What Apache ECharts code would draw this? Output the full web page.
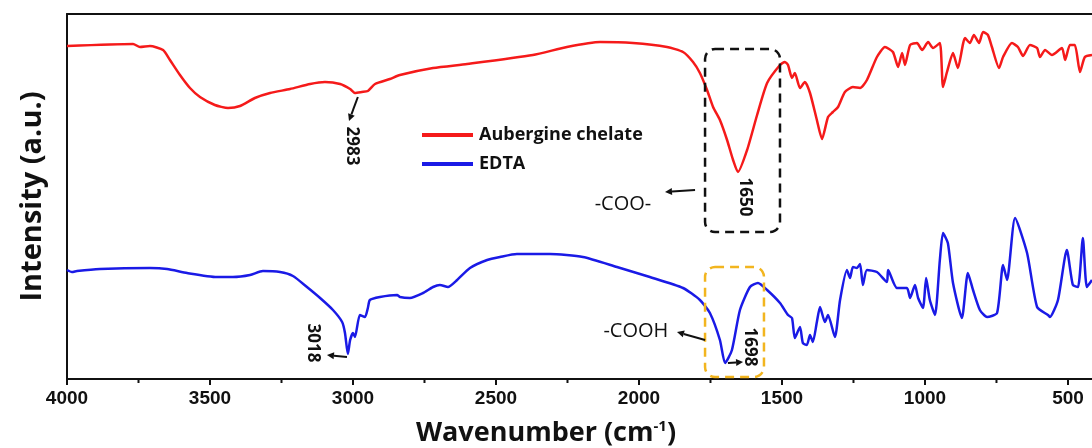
<!DOCTYPE html>
<html>
<head>
<meta charset="utf-8">
<script src="https://cdn.jsdelivr.net/npm/echarts@6/dist/echarts.min.js"></script>
<style>
html,body{margin:0;padding:0;background:#fff;}
#chart{width:1092px;height:448px;}
</style>
</head>
<body>
<div id="chart"></div>
<script>
// ---- data (wavenumber cm-1, intensity a.u.) ----
const chelateWn = [4000,3769,3745,3710,3664,3640,3605,3570,3535,3483,3437,3395,3343,3290,3220,3150,3098,3045,3010,2993,2969,2948,2923,2871,2836,2720,2601,2371,2252,2136,2021,1902,1846,1811,1787,1762,1741,1717,1692,1671,1654,1622,1587,1552,1507,1490,1479,1465,1455,1437,1420,1402,1378,1360,1339,1322,1304,1280,1252,1227,1203,1168,1140,1112,1094,1080,1070,1052,1028,1010,989,972,948,937,923,902,885,860,843,829,811,797,780,766,741,727,696,675,657,633,608,598,580,556,521,510,493,476,458,441,416];
const chelateInt = [333,335,332,333,329,319,304,291,282,274,271,273,281,286,290,295,297,295,290,286,287,288,295,300,304,311,315,324,332,337,336,332,327,317,306,289,272,259,239,219,207,229,264,296,314,317,314,301,306,291,297,286,259,240,262,267,272,287,292,291,299,322,332,327,312,326,314,334,336,329,337,331,336,292,307,326,311,341,336,344,336,347,344,332,311,322,336,332,323,334,331,322,329,324,331,319,334,334,307,322,324];

const edtaWn = [4000,3983,3965,3885,3710,3650,3580,3476,3420,3360,3315,3255,3210,3161,3115,3070,3038,3028,3018,3010,3000,2993,2976,2958,2948,2941,2906,2846,2836,2801,2755,2720,2696,2668,2636,2591,2531,2486,2427,2311,2196,2077,1962,1846,1787,1752,1717,1699,1675,1647,1612,1584,1552,1507,1479,1465,1455,1437,1427,1413,1402,1392,1378,1367,1350,1339,1315,1297,1273,1262,1252,1238,1227,1217,1203,1168,1133,1129,1098,1063,1052,1035,1024,1007,996,983,965,948,937,920,902,871,850,832,808,783,748,727,713,685,643,608,570,563,535,504,483,465,448,434,416];
const edtaInt = [109,107,108,110,111,110,106,102,102,104,108,107,103,92,81,69,57,46,25,39,46,42,64,62,71,79,82,84,82,81,86,92,94,92,99,111,119,122,125,125,122,112,102,91,79,66,39,16,29,69,92,96,89,76,64,61,41,52,36,34,44,37,57,72,57,64,42,79,109,101,112,111,115,94,109,107,97,109,91,91,81,94,81,71,101,79,64,119,146,136,96,61,106,89,69,62,66,114,99,161,126,72,64,62,79,129,94,92,141,92,99];

const seriesNames = ['Aubergine chelate', 'EDTA'];
const xRange = [416, 4000];
const majorTicks = [4000, 3500, 3000, 2500, 2000, 1500, 1000, 500];
const minorTicks = [3750, 3250, 2750, 2250, 1750, 1250, 750];

// annotations (data coordinates: wavenumber, intensity)
const peakLabels = [
  { text: '2983', at: [3003, 233], arrow: [[2983, 282], [3014, 258]] },
  { text: '1650', at: [1629, 182], arrow: null },
  { text: '1698', at: [1612, 32], arrow: [[1689, 16], [1636, 17]] },
  { text: '3018', at: [3140, 36], arrow: [[3021, 22], [3091, 24]] }
];
const groupLabels = [
  { text: '-COO-', at: [2056, 175], arrow: [[1804, 189], [1909, 187]] },
  { text: '-COOH', at: [2011, 48], arrow: [[1769, 39], [1867, 47]] }
];
const boxes = [
  { from: [1769, 330], to: [1507, 147], color: '#111111' },
  { from: [1769, 112], to: [1563, 2], color: '#F2B51F' }
];

const toPairs = (xs, ys) => xs.map((x, i) => [x, ys[i]]);
const axisBase = { type: 'value', inverse: true, min: xRange[0], max: xRange[1], gridIndex: 0, splitLine: { show: false } };

const chart = echarts.init(document.getElementById('chart'));
chart.setOption({
  animation: false,
  backgroundColor: '#ffffff',
  grid: { left: 67, top: 14, right: 0, height: 365 },
  title: {
    text: 'Wavenumber (cm{sup|-1})',
    left: 541, top: 414, textAlign: 'center',
    textStyle: {
      fontFamily: 'Open Sans', fontWeight: 700, fontSize: 27, color: '#111',
      rich: { sup: { fontFamily: 'Open Sans', fontWeight: 700, fontSize: 15, color: '#111', verticalAlign: 'top', padding: [0, 0, 13, 0] } }
    }
  },
  legend: {
    data: seriesNames,
    orient: 'vertical', left: 417, top: 121, itemGap: 11,
    itemWidth: 51, itemHeight: 4, icon: 'rect',
    textStyle: { fontFamily: 'Open Sans', fontWeight: 700, fontSize: 18, color: '#111', lineHeight: 18, padding: [0, 0, 0, 1] }
  },
  xAxis: [
    Object.assign({}, axisBase, {
      position: 'bottom',
      axisLine: { show: true, lineStyle: { color: '#111', width: 2 } },
      axisTick: { show: true, length: 6, customValues: majorTicks, lineStyle: { color: '#111', width: 2 } },
      axisLabel: { margin: 10, customValues: majorTicks, formatter: v => String(v), fontFamily: 'Liberation Sans', fontWeight: 'bold', fontSize: 19, color: '#111' }
    }),
    Object.assign({}, axisBase, {
      position: 'top',
      axisLine: { show: true, lineStyle: { color: '#111', width: 2 } },
      axisTick: { show: false }, axisLabel: { show: false }
    })
  ],
  yAxis: {
    type: 'value', min: 0, max: 365,
    name: 'Intensity (a.u.)', nameLocation: 'middle', nameGap: 20,
    nameTextStyle: { fontFamily: 'Open Sans', fontWeight: 700, fontSize: 29, color: '#111' },
    axisLine: { show: true, lineStyle: { color: '#111', width: 2 } },
    axisTick: { show: false }, axisLabel: { show: false }, splitLine: { show: false }
  },
  series: [
    { name: seriesNames[0], type: 'line', xAxisIndex: 0, data: toPairs(chelateWn, chelateInt), showSymbol: false, smooth: 0.2,
      lineStyle: { color: '#F51A1A', width: 2.5 }, itemStyle: { color: '#F51A1A' } },
    { name: seriesNames[1], type: 'line', xAxisIndex: 0, data: toPairs(edtaWn, edtaInt), showSymbol: false, smooth: 0.2,
      lineStyle: { color: '#1A1AE6', width: 2.5 }, itemStyle: { color: '#1A1AE6' } }
  ]
});

// annotations placed through the axes
const px = p => chart.convertToPixel({ xAxisIndex: 0, yAxisIndex: 0 }, p);
const graphics = [];
function arrow(a, b) {
  const p0 = px(a), p1 = px(b);
  const dx = p1[0] - p0[0], dy = p1[1] - p0[1];
  const L = Math.hypot(dx, dy), ux = dx / L, uy = dy / L;
  const hl = 7, hw = 3.5;
  const bx = p1[0] - ux * hl, by = p1[1] - uy * hl;
  graphics.push({ type: 'line', shape: { x1: p0[0], y1: p0[1], x2: bx, y2: by }, style: { stroke: '#111', lineWidth: 2 }, z: 100 });
  graphics.push({ type: 'polygon', shape: { points: [[p1[0], p1[1]], [bx - uy * hw, by + ux * hw], [bx + uy * hw, by - ux * hw]] }, style: { fill: '#111' }, z: 100 });
}
// minor ticks on the bottom axis
minorTicks.forEach(v => {
  const p = px([v, 0]);
  graphics.push({ type: 'line', shape: { x1: p[0], y1: p[1], x2: p[0], y2: p[1] + 4 }, style: { stroke: '#111', lineWidth: 2 }, z: 100 });
});
peakLabels.forEach(l => {
  const p = px(l.at);
  graphics.push({ type: 'text', x: p[0], y: p[1], rotation: -Math.PI / 2, z: 100,
    style: { text: l.text, fill: '#111', font: 'bold 17px "Open Sans"', align: 'center', verticalAlign: 'middle' } });
  if (l.arrow) arrow(l.arrow[0], l.arrow[1]);
});
groupLabels.forEach(l => {
  const p = px(l.at);
  graphics.push({ type: 'text', x: p[0], y: p[1], z: 100,
    style: { text: l.text, fill: '#111', font: '20px "Open Sans"', align: 'center', verticalAlign: 'middle' } });
  arrow(l.arrow[0], l.arrow[1]);
});
boxes.forEach(b => {
  const p0 = px(b.from), p1 = px(b.to);
  graphics.push({ type: 'rect', z: 90,
    shape: { x: p0[0], y: p0[1], width: p1[0] - p0[0], height: p1[1] - p0[1], r: 10 },
    style: { fill: 'none', stroke: b.color, lineWidth: 2.5, lineDash: [9, 6] } });
});
chart.setOption({ graphic: graphics });
</script>
</body>
</html>
